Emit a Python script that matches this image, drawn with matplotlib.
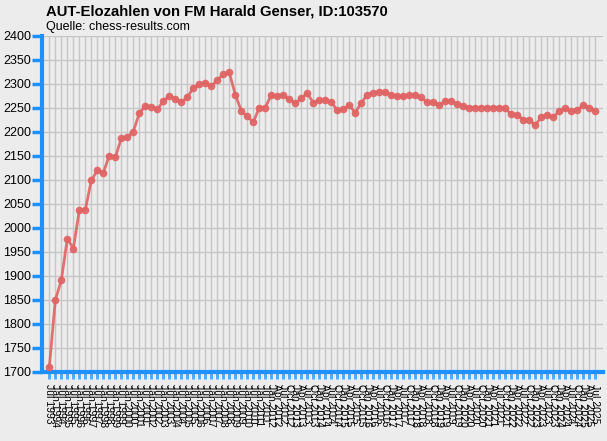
import matplotlib
matplotlib.use("Agg")
import matplotlib.pyplot as plt

# Elo values
elo = [1710, 1850, 1891, 1978, 1957, 2037, 2038, 2099, 2120, 2115,
       2151, 2147, 2187, 2189, 2201, 2239, 2254, 2252, 2247, 2264,
       2276, 2268, 2262, 2272, 2292, 2299, 2303, 2295, 2308, 2320,
       2324, 2278, 2244, 2233, 2220, 2251, 2251, 2277, 2274, 2277,
       2268, 2260, 2270, 2281, 2261, 2266, 2266, 2263, 2245, 2247,
       2256, 2240, 2261, 2277, 2281, 2283, 2283, 2277, 2274, 2274,
       2277, 2277, 2272, 2262, 2262, 2256, 2264, 2264, 2258, 2254,
       2251, 2251, 2251, 2251, 2251, 2251, 2249, 2237, 2235, 2226,
       2226, 2214, 2231, 2235, 2231, 2243, 2249, 2243, 2245, 2256,
       2251, 2243]

dates = ["Jul 1993",
         "Jan 1994", "Jul 1994", "Jan 1995", "Jul 1995", "Jan 1996", "Jul 1996",
         "Jan 1997", "Jul 1997", "Jan 1998", "Jul 1998", "Jan 1999", "Jul 1999",
         "Jan 2000", "Jul 2000", "Jan 2001", "Jul 2001", "Jan 2002", "Jul 2002",
         "Jan 2003", "Jul 2003", "Jan 2004", "Jul 2004", "Jan 2005", "Jul 2005",
         "Jan 2006", "Jul 2006", "Jan 2007", "Jul 2007", "Jan 2008", "Jul 2008",
         "Jan 2009", "Jul 2009", "Jan 2010", "Jul 2010", "Jan 2011", "Jul 2011",
         "Jan 2012", "Apr 2012", "Jul 2012", "Oct 2012",
         "Jan 2013", "Apr 2013", "Jul 2013", "Oct 2013",
         "Jan 2014", "Apr 2014", "Jul 2014", "Oct 2014",
         "Jan 2015", "Apr 2015", "Jul 2015", "Oct 2015",
         "Jan 2016", "Apr 2016", "Jul 2016", "Oct 2016",
         "Jan 2017", "Apr 2017", "Jul 2017", "Oct 2017",
         "Jan 2018", "Apr 2018", "Jul 2018", "Oct 2018",
         "Jan 2019", "Apr 2019", "Jul 2019", "Oct 2019",
         "Jan 2020", "Apr 2020", "Jul 2020", "Oct 2020",
         "Jan 2021", "Apr 2021", "Jul 2021", "Oct 2021",
         "Jan 2022", "Apr 2022", "Jul 2022", "Oct 2022",
         "Jan 2023", "Apr 2023", "Jul 2023", "Oct 2023",
         "Jan 2024", "Apr 2024", "Jul 2024", "Oct 2024",
         "Jan 2025", "Apr 2025", "Jul 2025"]

yticks = list(range(1700, 2401, 50))

bg = "#ececec"
blue = "#1e90ff"
plt.rcParams["font.family"] = ["Liberation Sans", "DejaVu Sans"]

fig = plt.figure(figsize=(6.07, 4.41), dpi=100, facecolor=bg)
ax = fig.add_axes([42 / 607, 1 - 372 / 441, (603 - 42) / 607, (372 - 36) / 441])
ax.set_facecolor(bg)

x = list(range(len(elo)))
ax.plot(x, elo, color="#e06464", lw=2, marker="o", ms=4.5, alpha=0.9, zorder=3)

ax.set_xlim(-1.22, len(elo) + 0.3)
ax.set_ylim(1700, 2400)
ax.set_yticks(yticks)
ax.set_xticks(x)
ax.set_xticklabels(dates, rotation=-90, fontsize=7.5)
ax.tick_params(axis="y", colors=blue, labelcolor="black", length=7, width=2.5, labelsize=9, pad=1)
ax.tick_params(axis="x", colors="#4aa6ff", labelcolor="black", length=5, width=2, pad=4)

ax.grid(True, color="#c6c6c6", lw=1)
ax.set_axisbelow(True)
for s in ["top", "right"]:
    ax.spines[s].set_visible(False)
for s in ["left", "bottom"]:
    ax.spines[s].set_color(blue)
    ax.spines[s].set_linewidth(3)

fig.text(46 / 607, 1 - 12 / 441, "AUT-Elozahlen von FM Harald Genser, ID:103570",
         fontsize=10.7, fontweight="bold", va="center", ha="left")
fig.text(46 / 607, 1 - 27 / 441, "Quelle: chess-results.com",
         fontsize=9, va="center", ha="left")

fig.savefig("out.png", dpi=100, facecolor=bg)
